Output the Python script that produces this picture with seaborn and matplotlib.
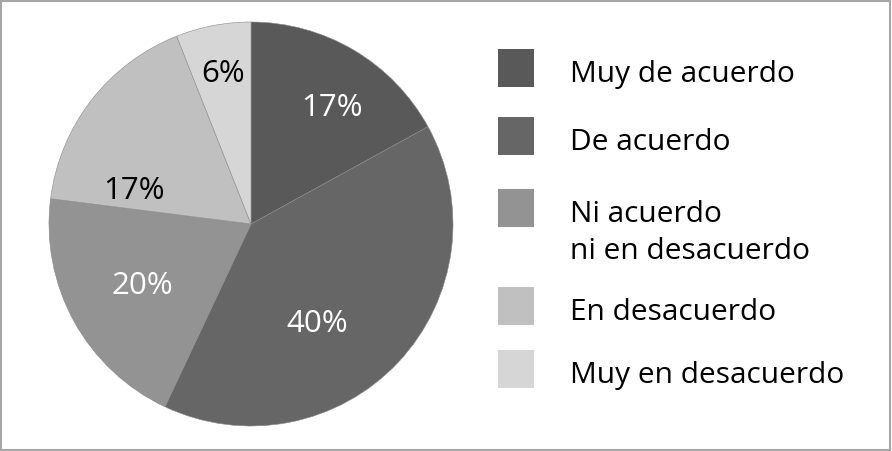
import numpy as np
import seaborn as sns
import matplotlib.pyplot as plt
from matplotlib.patches import Rectangle

# Datos del gráfico
categorias = ["Muy de acuerdo", "De acuerdo", "Ni acuerdo\nni en desacuerdo",
              "En desacuerdo", "Muy en desacuerdo"]
porcentajes = [17, 40, 20, 17, 6]
colores = ["#595959", "#666666", "#939393", "#c0c0c0", "#d6d6d6"]
color_texto = ["white", "white", "white", "black", "black"]

# Posición de cada etiqueta (en radios del pastel), como en el original
pos_etiquetas = [(0.40, 0.58), (0.33, -0.49), (-0.54, -0.30), (-0.58, 0.17), (-0.14, 0.75)]

sns.set_theme(style="white")
plt.rcParams['font.family'] = ['Open Sans', 'DejaVu Sans']

W, H = 892, 452
fig = plt.figure(figsize=(W / 100, H / 100), dpi=100)
fig.patch.set_facecolor("white")

# Marco gris alrededor de la figura
fig.add_artist(Rectangle((1 / W, 1 / H), 1 - 3 / W, 1 - 3 / H, transform=fig.transFigure,
                         fill=False, edgecolor="#a6a6a6", linewidth=1.5))

# Pastel: centro (251, 225) px, radio 202 px
cx, cy, r = 251, 225, 202
ax = fig.add_axes([(cx - r) / W, (H - cy - r) / H, 2 * r / W, 2 * r / H])
wedges, textos, autotextos = ax.pie(
    porcentajes, colors=colores, startangle=90, counterclock=False,
    autopct=lambda p: f"{p:.0f}%",
    wedgeprops=dict(linewidth=0.4, edgecolor="#8a8a8a"),
    textprops=dict(fontsize=22.5))
for t, c, p in zip(autotextos, color_texto, pos_etiquetas):
    t.set_color(c)
    t.set_position(p)
ax.set_xlim(-1, 1)
ax.set_ylim(-1, 1)
ax.axis("off")

# Leyenda manual (cuadro alineado con la primera línea del texto)
filas_y = [69, 137, 209, 307, 370]
interlineado = 37
for cat, col, y in zip(categorias, colores, filas_y):
    fig.add_artist(Rectangle((498 / W, 1 - (y + 19) / H), 36 / W, 38 / H,
                             transform=fig.transFigure, facecolor=col, edgecolor="none"))
    for i, linea in enumerate(cat.split("\n")):
        fig.text(570 / W, 1 - (y + 13 + i * interlineado) / H, linea, fontsize=21.5,
                 va="baseline", ha="left", color="black")

fig.savefig("out.png", dpi=100)
